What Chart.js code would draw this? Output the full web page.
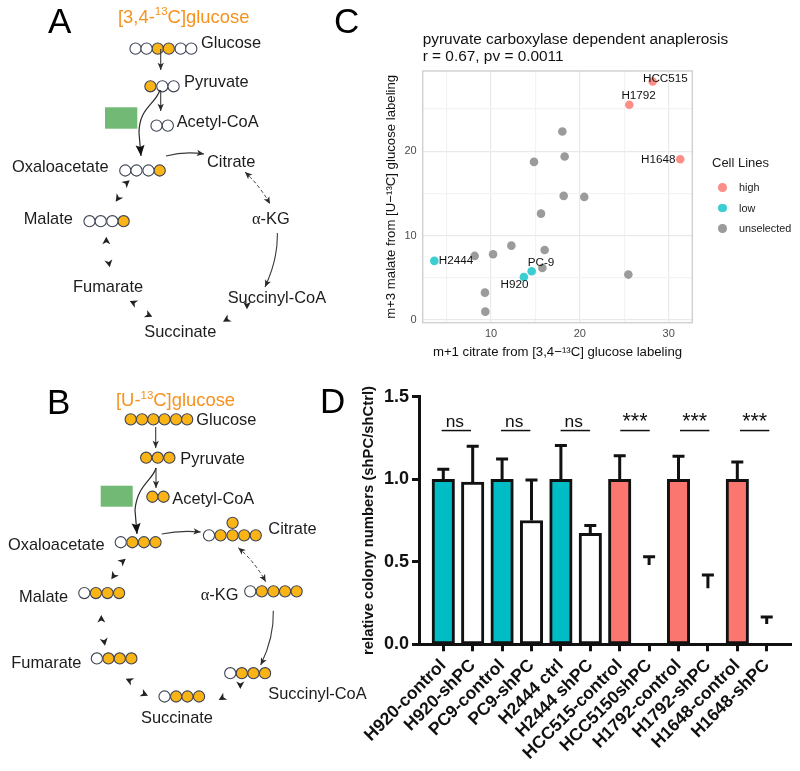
<!DOCTYPE html>
<html>
<head>
<meta charset="utf-8">
<script src="https://cdn.jsdelivr.net/npm/chart.js@4/dist/chart.umd.js"></script>
<style>
  html, body { margin: 0; padding: 0; background: #fff; }
  #page { position: relative; width: 800px; height: 771px; overflow: hidden; font-family: "Liberation Sans", Arial, sans-serif; color: #1a1a1a; }
  #page canvas, #page svg { position: absolute; }
  #pathwayChart { left: 0; top: 0; }
  #scatterChart { left: 375px; top: 0; }
  #barChart { left: 345px; top: 380px; }
  #legend { position: absolute; left: 712px; top: 154px; }
  #legend .legend-title { font-size: 13px; line-height: 18px; margin-bottom: 5px; }
  #legend .legend-item { position: relative; font-size: 10.8px; height: 20.6px; line-height: 20.6px; padding-left: 27px; }
  #legend .legend-dot { position: absolute; left: 6px; top: 6px; width: 8.6px; height: 8.6px; border-radius: 50%; }
</style>
</head>
<body>
<div id="page">
  <canvas id="pathwayChart" width="400" height="771"></canvas>
  <canvas id="scatterChart" width="425" height="370"></canvas>
  <canvas id="barChart" width="455" height="391"></canvas>
  <svg id="diagram" width="800" height="771" style="left:0;top:0"></svg>
  <div id="legend"></div>
</div>
<script>
// ── panel C: scatter values ──
const highX = [28.2, 25.57, 31.3];
const highY = [28.26, 25.5, 19.05];
const lowX = [3.62, 14.58, 13.7];
const lowY = [7.0, 5.77, 5.1];
const unselectedX = [18.03, 18.29, 14.84, 18.18, 20.5, 15.63, 12.29, 16.04, 10.23, 8.16, 15.78, 25.46, 9.32, 9.36];
const unselectedY = [22.33, 19.37, 18.73, 14.7, 14.58, 12.6, 8.81, 8.3, 7.79, 7.59, 6.17, 5.38, 3.24, 0.99];
const highNames = ['HCC515', 'H1792', 'H1648'];
const lowNames = ['H2444', 'PC-9', 'H920'];
const legendNames = ['high', 'low', 'unselected'];
const legendColors = ['#fb8f88', '#3acdd1', '#9b9b9b'];

// ── panel D: bar values ──
const categories = ['H920-control', 'H920-shPC', 'PC9-control', 'PC9-shPC', 'H2444 ctrl', 'H2444 shPC',
  'HCC515-control', 'HCC5150shPC', 'H1792-control', 'H1792-shPC', 'H1648-control', 'H1648-shPC'];
const means = [1, 0.982, 1, 0.75, 1, 0.673, 1, 0.48, 1, 0.34, 1, 0.123];
const errorTops = [1.06, 1.2, 1.123, 0.996, 1.204, 0.719, 1.143, 0.53, 1.139, 0.42, 1.105, 0.166];
const barFills = ['#00bcc4', '#fff', '#00bcc4', '#fff', '#00bcc4', '#fff', '#fa766e', 'transparent', '#fa766e', 'transparent', '#fa766e', 'transparent'];
const barEdges = ['#111', '#111', '#111', '#111', '#111', '#111', '#111', 'transparent', '#111', 'transparent', '#111', 'transparent'];
const sigLabels = ['ns', 'ns', 'ns', '***', '***', '***'];
const sigStarts = [-0.057, 1.961, 3.99, 6.02, 8.05, 10.09];

// ── panels A and B: carbon atoms, one row per metabolite ──
const atomRows = [
  { xs: [133.3, 144.7, 156.3, 167.7, 180, 191], y: 42.7, filled: [0, 0, 1, 1, 0, 0] },
  { xs: [148.7, 161, 172.7], y: 81, filled: [1, 0, 0] },
  { xs: [155, 166.7], y: 121, filled: [0, 0] },
  { xs: [122.7, 134.3, 146.7, 158.3], y: 166.7, filled: [0, 0, 0, 1] },
  { xs: [85.7, 97.3, 109.3, 121], y: 218.3, filled: [0, 0, 0, 1] },
  { xs: [128.3, 140, 151.7, 163.3, 175.3, 186.7], y: 420, filled: [1, 1, 1, 1, 1, 1] },
  { xs: [144.3, 156.3, 168.3], y: 459, filled: [1, 1, 1] },
  { xs: [150.7, 162.3], y: 498.7, filled: [1, 1] },
  { xs: [118, 130, 142, 154], y: 545, filled: [0, 1, 1, 1] },
  { xs: [209.3, 221.3, 233.7, 245.7, 257.7], y: 538, filled: [0, 1, 1, 1, 1] },
  { xs: [233.7], y: 525.3, filled: [1] },
  { xs: [252, 264, 276, 288, 300], y: 595, filled: [0, 1, 1, 1, 1] },
  { xs: [80.3, 92.3, 104.3, 116.3], y: 596.7, filled: [0, 1, 1, 1] },
  { xs: [93.3, 105.3, 117, 129], y: 663.3, filled: [0, 1, 1, 1] },
  { xs: [231.3, 243.3, 255.3, 267.3], y: 678.3, filled: [0, 1, 1, 1] },
  { xs: [163.3, 175.3, 187, 199], y: 702, filled: [0, 1, 1, 1] },
];
const pathwayLabels = [
  ['Glucose', 201, 47.7], ['Pyruvate', 184, 86.7], ['Acetyl-CoA', 176.7, 126.7], ['Oxaloacetate', 12, 171.7],
  ['Citrate', 207, 166.7], ['Malate', 23.7, 224], ['Fumarate', 73, 292.3], ['Succinyl-CoA', 227.7, 303.3], ['Succinate', 144.3, 336.7],
  ['Glucose', 196.3, 425], ['Pyruvate', 180.3, 464.3], ['Acetyl-CoA', 172.3, 504.3], ['Oxaloacetate', 8, 550],
  ['Citrate', 268.3, 534], ['Malate', 19, 601.7], ['Fumarate', 11.3, 667.7], ['Succinyl-CoA', 268.3, 699], ['Succinate', 141, 723.3],
];
const arrowPaths = [
  'M160.7,49 L160.7,70', 'M160.7,90 L160.7,111', 'M166,156 Q185,151 204,154',
  'M277.3,233 C278,255 272,272 265,287',
  'M155.7,427 L155.7,448', 'M156,468 L156,488', 'M161.7,534 Q180,530 200.7,532',
  'M273.3,610.7 C274,632 268,650 260.7,665',
];
const bigArrowPaths = ['M160,90 C155,105 139,108 139,133 L141,156', 'M156,468 C153,480 137,485 135,510 L137,534'];
const dashedPaths = ['M245,172 Q260,186 270,204', 'M238.3,547.7 Q255,562 265.7,581.7'];
const smallHeads = [
  [126.7, 180.3, -40], [112.7, 201.7, 125], [103.3, 236.7, -90], [106.7, 267.3, 80],
  [126.7, 301, 205], [149.3, 316.7, 25], [244, 309.3, 90], [220, 321.7, 150],
  [122.7, 558.7, -40], [108.3, 579.3, 125], [98.3, 615, -90], [102, 645.7, 80],
  [122.7, 678.7, 205], [145, 695.7, 25], [237.3, 689, 90], [215.7, 700, 150],
];

Chart.defaults.font.family = '"Liberation Sans", Arial, sans-serif';
Chart.defaults.animation = false;
Chart.defaults.responsive = false;

const toPoints = (xs, ys) => xs.map((x, i) => ({ x: x, y: ys[i] }));
const atomsWhere = (flag) => atomRows.flatMap(r => r.xs.map((x, i) => ({ x: x, y: r.y, f: r.filled[i] }))).filter(a => a.f === flag);

// ── panels A/B atoms: scatter on a page-sized scale ──
new Chart(document.getElementById('pathwayChart'), {
  type: 'scatter',
  data: {
    datasets: [
      { data: atomsWhere(0), backgroundColor: '#fff', borderColor: '#3f4555', borderWidth: 1.1, pointRadius: 5.6 },
      { data: atomsWhere(1), backgroundColor: '#fbb416', borderColor: '#3f4555', borderWidth: 1.1, pointRadius: 5.6 },
    ]
  },
  options: {
    layout: { padding: 0 },
    plugins: { legend: { display: false }, tooltip: { enabled: false } },
    scales: {
      x: { display: false, min: 0, max: 400 },
      y: { display: false, min: 0, max: 771, reverse: true }
    }
  }
});

// ── panel C ──
const grey = '#4d4d4d';
const gridC = (ctx) => (ctx.tick.value % 10 === 0 ? '#e9e9e9' : '#f3f3f3');
const scatterLabels = {
  id: 'scatterLabels',
  // title box is as wide as the plot by default, which squeezes the long first line
  afterLayout(chart) {
    chart.titleBlock.left = chart.chartArea.left;
    chart.titleBlock.right = chart.width;
  },
  beforeDatasetsDraw(chart) {
    const { ctx, chartArea: a } = chart;
    ctx.save();
    ctx.strokeStyle = '#d2d2d2';
    ctx.lineWidth = 1.5;
    ctx.strokeRect(a.left, a.top, a.width, a.height);
    ctx.restore();
  },
  afterDatasetsDraw(chart) {
    const { ctx, scales } = chart;
    const names = highNames.concat(lowNames);
    const xs = highX.concat(lowX);
    const ys = highY.concat(lowY);
    const nudgeX = [12.7, 9.3, -22, 21.7, 9.3, -9.3];
    const nudgeY = [-2.3, -8.7, 0.3, 0.3, -8.3, 8.3];
    ctx.save();
    ctx.font = '11.7px "Liberation Sans"';
    ctx.fillStyle = '#111';
    ctx.textAlign = 'center';
    ctx.textBaseline = 'middle';
    names.forEach((n, i) => {
      ctx.fillText(n, scales.x.getPixelForValue(xs[i]) + nudgeX[i], scales.y.getPixelForValue(ys[i]) + nudgeY[i]);
    });
    ctx.restore();
  }
};

new Chart(document.getElementById('scatterChart'), {
  type: 'scatter',
  data: {
    datasets: [
      { label: legendNames[2], data: toPoints(unselectedX, unselectedY), backgroundColor: legendColors[2], pointRadius: 4.3, borderWidth: 0 },
      { label: legendNames[0], data: toPoints(highX, highY), backgroundColor: legendColors[0], pointRadius: 4.3, borderWidth: 0 },
      { label: legendNames[1], data: toPoints(lowX, lowY), backgroundColor: legendColors[1], pointRadius: 4.3, borderWidth: 0 },
    ]
  },
  options: {
    layout: { padding: { right: 107.7 } },
    plugins: {
      legend: { display: false },
      tooltip: { enabled: false },
      title: {
        display: true,
        text: ['pyruvate carboxylase dependent anaplerosis', 'r = 0.67, pv = 0.0011'],
        align: 'start',
        fullSize: false,
        color: '#111',
        font: { size: 15.4, weight: 'normal', lineHeight: 1.08 },
        padding: { top: 31.4, bottom: 6.3 }
      }
    },
    scales: {
      x: {
        type: 'linear', min: 2.31, max: 32.66,
        afterFit: (s) => { s.height = 47.3; },
        ticks: { stepSize: 5, includeBounds: false, color: grey, font: { size: 11 }, padding: 5, callback: (v) => (v % 10 === 0 ? v : '') },
        grid: { color: gridC, lineWidth: 1.2, drawTicks: false },
        border: { display: false },
        title: { display: true, text: 'm+1 citrate from [3,4−¹³C] glucose labeling', color: '#111', font: { size: 13.2 }, padding: { top: 0, bottom: 9.5 } }
      },
      y: {
        type: 'linear', min: -0.32, max: 29.5,
        afterFit: (s) => { s.width = 47.7; },
        ticks: { stepSize: 5, includeBounds: false, color: grey, font: { size: 11 }, padding: 6, callback: (v) => (v % 10 === 0 ? v : '') },
        grid: { color: gridC, lineWidth: 1.2, drawTicks: false },
        border: { display: false },
        title: { display: true, text: 'm+3 malate from [U−¹³C] glucose labeling', color: '#111', font: { size: 13.2 }, padding: { top: 8.9, bottom: 0 } }
      }
    }
  },
  plugins: [scatterLabels]
});

// legend for panel C
const legendBox = document.getElementById('legend');
legendBox.innerHTML = '<div class="legend-title">Cell Lines</div>' + legendNames.map((n, i) =>
  '<div class="legend-item"><span class="legend-dot" style="background:' + legendColors[i] + '"></span>' + n + '</div>').join('');

// ── panel D ──
const errorsAndMarks = {
  id: 'errorsAndMarks',
  afterDatasetsDraw(chart) {
    const { ctx, scales } = chart;
    ctx.save();
    ctx.strokeStyle = '#111';
    ctx.lineWidth = 3;
    errorTops.forEach((top, i) => {
      const x = scales.x.getPixelForValue(i);
      const yTop = scales.y.getPixelForValue(top);
      const yMean = scales.y.getPixelForValue(means[i]);
      ctx.beginPath();
      ctx.moveTo(x, yMean);
      ctx.lineTo(x, yTop);
      ctx.moveTo(x - 6, yTop);
      ctx.lineTo(x + 6, yTop);
      ctx.stroke();
    });
    ctx.lineWidth = 1.5;
    ctx.fillStyle = '#111';
    ctx.textAlign = 'center';
    sigLabels.forEach((t, i) => {
      const x0 = scales.x.getPixelForValue(sigStarts[i]);
      const x1 = scales.x.getPixelForValue(sigStarts[i] + 1);
      const y = scales.y.getPixelForValue(1.295);
      ctx.beginPath();
      ctx.moveTo(x0, y);
      ctx.lineTo(x1, y);
      ctx.stroke();
      ctx.font = (t === 'ns' ? '17.4px' : '21.4px') + ' "Liberation Sans"';
      ctx.fillText(t, (x0 + x1) / 2 - (t === 'ns' ? 1.5 : 0), y - (t === 'ns' ? 4 : 3));
    });
    ctx.restore();
  }
};

new Chart(document.getElementById('barChart'), {
  type: 'bar',
  data: {
    labels: categories,
    datasets: [{
      data: toPoints(categories.map((c, i) => i), means),
      backgroundColor: barFills,
      borderColor: barEdges,
      borderWidth: 3,
      borderSkipped: false,
      barThickness: 22.5
    }]
  },
  options: {
    layout: { padding: { top: 16.7, right: 9 } },
    plugins: { legend: { display: false }, tooltip: { enabled: false } },
    scales: {
      x: {
        type: 'linear', min: -0.826, max: 11.826, offset: false,
        afterFit: (s) => { s.height = 126.7; },
        ticks: { stepSize: 1, includeBounds: false, autoSkip: false, maxRotation: 45, minRotation: 45, color: '#111', padding: 4,
          font: { size: 17.5, weight: 'bold' }, callback: (v) => categories[v] },
        grid: { offset: false, drawOnChartArea: false, tickLength: 7, tickWidth: 3, tickColor: '#111' },
        border: { color: '#111', width: 3 }
      },
      y: {
        min: 0, max: 1.5,
        afterFit: (s) => { s.width = 74; },
        ticks: { stepSize: 0.5, color: '#111', padding: 3, font: { size: 18, weight: 'bold' }, callback: (v) => v.toFixed(1) },
        grid: { drawOnChartArea: false, tickLength: 7, tickWidth: 3, tickColor: '#111' },
        border: { color: '#111', width: 3 },
        title: { display: true, text: 'relative colony numbers (shPC/shCtrl)', color: '#111', font: { size: 14.8, weight: 'bold' }, padding: { top: 15, bottom: 0 } }
      }
    }
  },
  plugins: [errorsAndMarks]
});

// ── diagram overlay: arrows and text ──
const headShape = 'M0,0 L-7.5,-4 L-5.5,0 L-7.5,4 Z';
let svg = '<defs>' +
  '<marker id="hd" markerUnits="userSpaceOnUse" viewBox="-9 -5 10 10" markerWidth="9" markerHeight="9" orient="auto"><path d="M0,0 L-8,-3.5 L-6,0 L-8,3.5 Z" fill="#2b2b2b"/></marker>' +
  '<marker id="big" markerUnits="userSpaceOnUse" viewBox="-12 -6 13 12" markerWidth="13" markerHeight="12" orient="auto"><path d="M0,0 L-11,-4.5 L-9,0 L-11,4.5 Z" fill="#111"/></marker>' +
  '<marker id="dbl" markerUnits="userSpaceOnUse" viewBox="-9 -5 10 10" markerWidth="9" markerHeight="9" orient="auto-start-reverse"><path d="M0,0 L-8,-3.5 L-6,0 L-8,3.5 Z" fill="#2b2b2b"/></marker>' +
  '</defs>';
svg += '<rect x="105" y="107.3" width="32.3" height="21.4" fill="#71b975"/><rect x="100.7" y="485.7" width="32" height="21" fill="#71b975"/>';
arrowPaths.forEach(d => { svg += '<path d="' + d + '" fill="none" stroke="#3a3a3a" stroke-width="1.1" marker-end="url(#hd)"/>'; });
bigArrowPaths.forEach(d => { svg += '<path d="' + d + '" fill="none" stroke="#2b2b2b" stroke-width="1.2" marker-end="url(#big)"/>'; });
dashedPaths.forEach(d => { svg += '<path d="' + d + '" fill="none" stroke="#3a3a3a" stroke-width="1" stroke-dasharray="3.5 2.5" marker-start="url(#dbl)" marker-end="url(#dbl)"/>'; });
smallHeads.forEach(h => { svg += '<path d="' + headShape + '" fill="#222" transform="translate(' + (h[0] + 3) + ' ' + h[1] + ') rotate(' + h[2] + ')"/>'; });

const txt = (s, x, y, size, fill) => '<text x="' + x + '" y="' + y + '" font-size="' + size + '" fill="' + fill + '">' + s + '</text>';
svg += '<g font-family="Liberation Sans">';
pathwayLabels.forEach(l => { svg += txt(l[0], l[1], l[2], 16.4, '#1c1c1c'); });
const alpha = '<tspan font-family="Liberation Serif">α</tspan>-KG';
svg += txt(alpha, 252, 224.3, 16.4, '#1c1c1c') + txt(alpha, 200.7, 600, 16.4, '#1c1c1c');
const sup = (before, after) => before + '<tspan font-size="11.5" dy="-7.5">13</tspan><tspan dy="7.5">' + after + '</tspan>';
svg += txt(sup('[3,4-', 'C]glucose'), 118, 22.7, 18.4, '#f6921e') + txt(sup('[U-', 'C]glucose'), 116, 406, 18.4, '#f6921e');
svg += txt('A', 48, 33, 35, '#000') + txt('B', 47, 414, 35, '#000') + txt('C', 334, 33, 35, '#000') + txt('D', 320, 413, 35, '#000');
svg += '</g>';
document.getElementById('diagram').innerHTML = svg;
</script>
</body>
</html>
